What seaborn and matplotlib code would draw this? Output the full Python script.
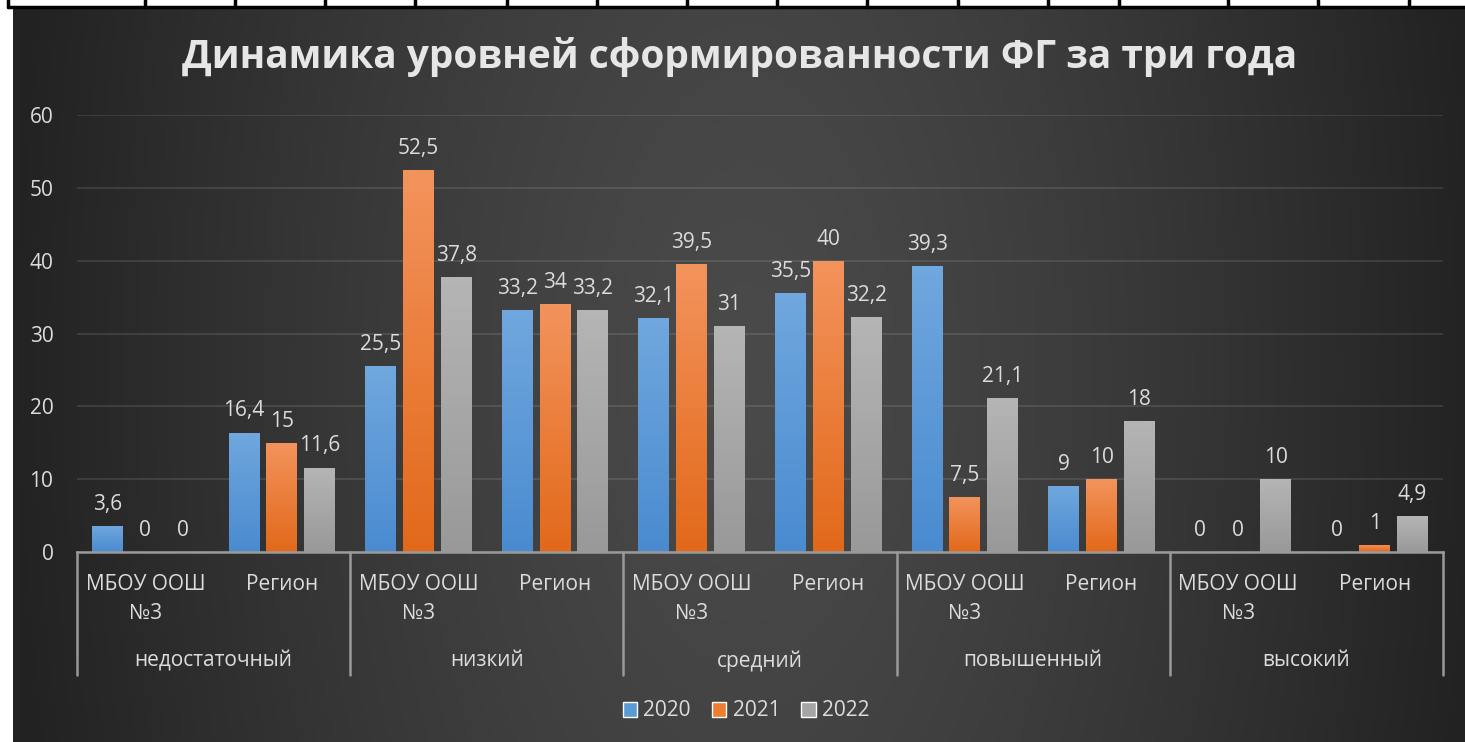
import numpy as np
import pandas as pd
import matplotlib
matplotlib.use("Agg")
import matplotlib.pyplot as plt
import matplotlib.transforms as mtransforms
from matplotlib.colors import LinearSegmentedColormap
from matplotlib.patches import Patch
import seaborn as sns

# данные
levels = ['недостаточный', 'низкий', 'средний', 'повышенный', 'высокий']
groups = ['МБОУ ООШ\n№3', 'Регион']
years = ['2020', '2021', '2022']
v2020 = [3.6, 16.4, 25.5, 33.2, 32.1, 35.5, 39.3, 9, 0, 0]
v2021 = [0, 15, 52.5, 34, 39.5, 40, 7.5, 10, 0, 1]
v2022 = [0, 11.6, 37.8, 33.2, 31, 32.2, 21.1, 18, 10, 4.9]
title = 'Динамика уровней сформированности ФГ за три года'

colors = {'2020': '#5b9bd5', '2021': '#ed7d31', '2022': '#a5a5a5'}
grad_colors = {'2020': ('#4a8bd0', '#70a7de'),
               '2021': ('#e2691a', '#f3935c'),
               '2022': ('#999999', '#b5b5b5')}
txt_color = '#dcdcdc'
line_color = '#9a9a9a'
fs = 15

slots = [f'{lev}|{g}' for lev in levels for g in groups]
df = pd.DataFrame({
    'slot': slots * 3,
    'year': [y for y in years for _ in slots],
    'value': v2020 + v2021 + v2022,
})

sns.set_theme(style='dark')
plt.rcParams['font.family'] = ['Open Sans', 'DejaVu Sans']

W, H = 1465, 742
fig = plt.figure(figsize=(W / 100, H / 100), dpi=100)
fig.patch.set_facecolor('white')

# фон с градиентом + линии таблицы сверху
bg = fig.add_axes([0, 0, 1, 1], zorder=-10)
bg.set_xlim(0, W)
bg.set_ylim(H, 0)
bg.axis('off')
xx, yy = np.meshgrid(np.linspace(13, W, 400), np.linspace(8, H, 200))
d = np.sqrt(((xx - 745) / 740) ** 2 + ((yy - 370) / 1500) ** 2)
d = np.clip(d, 0, 1) ** 1.3
c0, c1 = 0x4a / 255, 0x22 / 255
shade = c0 + (c1 - c0) * d
img = np.dstack([shade, shade, shade])
bg.imshow(img, extent=[13, W, H, 8], aspect='auto', interpolation='bilinear')
bg.plot([8, W], [6.5, 6.5], color='black', lw=2.5)
for xv in [8, 145, 235, 325, 415, 507, 597, 687, 777, 867, 958, 1048, 1119, 1228, 1318, 1409]:
    bg.plot([xv, xv], [0, 7], color='black', lw=2.5)

ax = fig.add_axes([77 / W, 1 - 552 / H, (1443 - 77) / W, (552 - 115) / H])
ax.set_facecolor('none')

sns.barplot(data=df, x='slot', y='value', hue='year', order=slots,
            hue_order=years, palette=colors, saturation=1, width=0.83,
            gap=0.18, legend=False, ax=ax, zorder=3, edgecolor='none',
            linewidth=0)

# градиент на столбиках
for year, cont in zip(years, ax.containers):
    cmap = LinearSegmentedColormap.from_list(year, grad_colors[year])
    for p in cont.patches:
        h = p.get_height()
        if h <= 0:
            p.set_visible(False)
            continue
        x0, w = p.get_x(), p.get_width()
        im = ax.imshow(np.linspace(1, 0, 50).reshape(-1, 1), cmap=cmap,
                       extent=[x0, x0 + w, 0, h], aspect='auto', zorder=3.5,
                       vmin=0, vmax=1)
        im.set_clip_path(p)
    labels = [f'{v:g}'.replace('.', ',') for v in cont.datavalues]
    ax.bar_label(cont, labels=labels, padding=8, fontsize=fs, color=txt_color)

ax.set_xlim(-0.5, len(slots) - 0.5)
ax.set_ylim(0, 60)
ax.set_yticks(range(0, 61, 10))
ax.yaxis.grid(True, color='#ffffff', alpha=0.12, lw=1.2)
ax.xaxis.grid(False)
ax.set_xticks([])
ax.set_xlabel('')
ax.set_ylabel('')
ax.tick_params(axis='y', length=0, pad=17, labelsize=fs, labelcolor=txt_color)
for s in ['top', 'right', 'left']:
    ax.spines[s].set_visible(False)
ax.spines['bottom'].set_color(line_color)
ax.spines['bottom'].set_linewidth(1.8)
ax.spines['bottom'].set_zorder(4)

# подписи категорий в два уровня
tr = mtransforms.blended_transform_factory(ax.transData, fig.transFigure)
for i, s in enumerate(slots):
    ax.text(i, 1 - 574 / H, groups[i % 2], transform=tr, ha='center', va='top',
            fontsize=fs, color=txt_color, linespacing=1.5, clip_on=False)
for k, lev in enumerate(levels):
    ax.text(2 * k + 0.5, 1 - 661 / H, lev, transform=tr, ha='center',
            va='center', fontsize=fs, color=txt_color, clip_on=False)
for k in range(len(levels) + 1):
    xb = 2 * k - 0.5
    ax.plot([xb, xb], [1 - 552 / H, 1 - 675 / H], transform=tr,
            color=line_color, lw=1.8, clip_on=False)

fig.text(0.505, 1 - 57 / H, title, ha='center', va='center', fontsize=28,
         fontweight='bold', color='#e6e6e6')

handles = [Patch(facecolor=colors[y]) for y in years]
fig.legend(handles, years, loc='center', bbox_to_anchor=(746 / W, 1 - 711 / H),
           ncol=3, frameon=False, fontsize=fs, labelcolor=txt_color,
           handlelength=0.7, handleheight=0.7, handletextpad=0.3,
           columnspacing=1.0)

fig.savefig('out.png', dpi=100)
